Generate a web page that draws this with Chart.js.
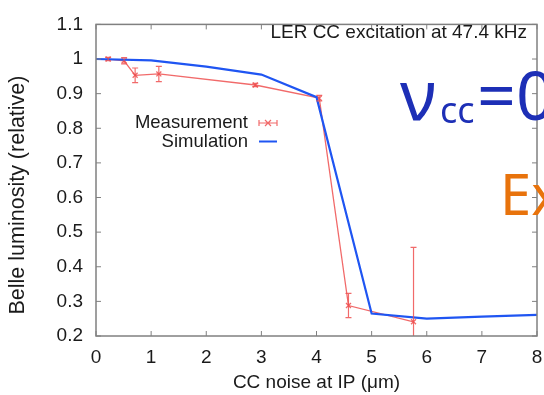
<!DOCTYPE html>
<html lang="en">
<head>
  <meta charset="UTF-8" />
  <title>Belle luminosity vs CC noise</title>
  <script src="https://cdn.jsdelivr.net/npm/chart.js"></script>
  <style>
    html, body {
      margin: 0;
      padding: 0;
      width: 544px;
      height: 395px;
      overflow: hidden;
      background: #fff;
    }
    /* a bit wider than the window so the "8" label and big text get cut like the slide */
    .chart-container {
      position: relative;
      width: 560px;
      height: 395px;
    }
  </style>
</head>
<body>
  <div class="chart-container">
    <canvas id="chart1"></canvas>
  </div>

  <script>
    // Measurement (red, with y error bars)
    const measX   = [0.22, 0.51, 0.71, 1.14, 2.89, 4.05, 4.58, 5.76];
    const measY   = [1.000, 0.995, 0.953, 0.957, 0.925, 0.887, 0.288, 0.241];
    const measErr = [0.005, 0.009, 0.021, 0.022, 0.005, 0.008, 0.035, 0.215];

    // Simulation (blue)
    const simX = [0, 1, 2, 3, 4, 5, 6, 7, 8];
    const simY = [1.000, 0.996, 0.978, 0.955, 0.890, 0.265, 0.250, 0.256, 0.261];

    // Axis ticks
    const xTicks = [0, 1, 2, 3, 4, 5, 6, 7, 8];
    const xTickLabels = ['0', '1', '2', '3', '4', '5', '6', '7', '8'];
    const yTicks = [0.2, 0.3, 0.4, 0.5, 0.6, 0.7, 0.8, 0.9, 1.0, 1.1];
    const yTickLabels = ['0.2', '0.3', '0.4', '0.5', '0.6', '0.7', '0.8', '0.9', '1', '1.1'];

    const RED = 'rgba(238, 80, 80, 0.85)';
    const BLUE = '#1f55f2';
    const FONT = '"Liberation Sans", Arial, Helvetica, sans-serif';

    // frame, inward ticks, error bars, legend and the slide texts
    const overlayPlugin = {
      id: 'overlay',
      afterDatasetsDraw(chart) {
        const { ctx, chartArea: a, scales: { x, y } } = chart;
        ctx.save();
        ctx.beginPath();
        ctx.rect(a.left, a.top, a.right - a.left, a.bottom - a.top);
        ctx.clip();
        ctx.strokeStyle = RED;
        ctx.lineWidth = 1.2;
        measX.forEach((mx, i) => {
          const px = x.getPixelForValue(mx);
          const top = y.getPixelForValue(measY[i] + measErr[i]);
          const bot = y.getPixelForValue(measY[i] - measErr[i]);
          ctx.beginPath();
          ctx.moveTo(px, top); ctx.lineTo(px, bot);
          ctx.moveTo(px - 3, top); ctx.lineTo(px + 3, top);
          ctx.moveTo(px - 3, bot); ctx.lineTo(px + 3, bot);
          ctx.stroke();
        });
        ctx.restore();
      },
      afterDraw(chart) {
        const { ctx, chartArea: a, scales: { x, y } } = chart;
        ctx.save();

        // frame
        ctx.strokeStyle = '#808080';
        ctx.lineWidth = 1.5;
        ctx.strokeRect(a.left, a.top, a.right - a.left, a.bottom - a.top);

        // inward ticks on all four sides
        ctx.lineWidth = 1;
        ctx.beginPath();
        xTicks.forEach(v => {
          const px = x.getPixelForValue(v);
          ctx.moveTo(px, a.bottom); ctx.lineTo(px, a.bottom - 5);
          ctx.moveTo(px, a.top); ctx.lineTo(px, a.top + 5);
        });
        yTicks.forEach(v => {
          const py = y.getPixelForValue(v);
          ctx.moveTo(a.left, py); ctx.lineTo(a.left + 5, py);
          ctx.moveTo(a.right, py); ctx.lineTo(a.right - 5, py);
        });
        ctx.stroke();

        // axis titles
        ctx.fillStyle = '#1a1a1a';
        ctx.textAlign = 'center';
        ctx.textBaseline = 'middle';
        ctx.font = '19px ' + FONT;
        ctx.fillText('CC noise at IP (\u03bcm)', (a.left + a.right) / 2, 383);
        ctx.save();
        ctx.translate(18, 195);
        ctx.rotate(-Math.PI / 2);
        ctx.font = '21.5px ' + FONT;
        ctx.fillText('Belle luminosity (relative)', 0, 0);
        ctx.restore();

        // title inside plot
        ctx.textAlign = 'right';
        ctx.font = '19px ' + FONT;
        ctx.fillText('LER CC excitation at 47.4 kHz', 527, 33);

        // legend
        ctx.font = '18.5px ' + FONT;
        ctx.fillText('Measurement', 248, 123);
        ctx.fillText('Simulation', 248, 141.5);
        ctx.strokeStyle = RED;
        ctx.lineWidth = 1.2;
        ctx.beginPath();
        ctx.moveTo(259, 123); ctx.lineTo(277, 123);
        ctx.moveTo(259, 120); ctx.lineTo(259, 126);
        ctx.moveTo(277, 120); ctx.lineTo(277, 126);
        ctx.moveTo(265, 120); ctx.lineTo(271, 126);
        ctx.moveTo(265, 126); ctx.lineTo(271, 120);
        ctx.stroke();
        ctx.strokeStyle = BLUE;
        ctx.lineWidth = 2;
        ctx.beginPath();
        ctx.moveTo(259, 141.5); ctx.lineTo(277, 141.5);
        ctx.stroke();

        // slide overlay text
        ctx.textAlign = 'left';
        ctx.textBaseline = 'alphabetic';
        ctx.fillStyle = '#1d2fb6';
        ctx.font = '70px "Noto Sans", sans-serif';
        ctx.fillText('\u03bd', 400, 120);
        ctx.font = '36px "Noto Sans", sans-serif';
        ctx.fillText('cc', 440, 123);
        ctx.font = '68px "Noto Sans", sans-serif';
        ctx.fillText('=0', 477, 120);
        ctx.fillStyle = '#e8730c';
        ctx.font = '56px "Noto Sans", sans-serif';
        ctx.fillText('Ex', 500, 215);

        ctx.restore();
      }
    };

    const ctx = document.getElementById('chart1').getContext('2d');
    new Chart(ctx, {
      type: 'line',
      data: {
        datasets: [
          {
            label: 'Simulation',
            data: simX.map((v, i) => ({ x: v, y: simY[i] })),
            borderColor: BLUE,
            borderWidth: 2.2,
            pointRadius: 0,
            tension: 0,
            fill: false
          },
          {
            label: 'Measurement',
            data: measX.map((v, i) => ({ x: v, y: measY[i] })),
            borderColor: RED,
            borderWidth: 1.3,
            pointStyle: 'crossRot',
            pointRadius: 3.5,
            pointBorderColor: RED,
            pointBorderWidth: 1.3,
            tension: 0,
            fill: false
          }
        ]
      },
      options: {
        responsive: true,
        maintainAspectRatio: false,
        animation: false,
        layout: { padding: { left: 0, right: 23, top: 14, bottom: 0 } },
        plugins: {
          legend: { display: false },
          tooltip: { enabled: false }
        },
        scales: {
          x: {
            type: 'linear',
            min: 0,
            max: 8,
            afterBuildTicks: s => { s.ticks = xTicks.map(v => ({ value: v })); },
            afterFit: s => { s.height = 59; },
            grid: { display: false, drawTicks: false },
            border: { display: false },
            ticks: {
              padding: 10,
              color: '#1a1a1a',
              font: { family: FONT, size: 19 },
              maxRotation: 0,
              callback: (v) => xTickLabels[xTicks.indexOf(v)]
            }
          },
          y: {
            min: 0.2,
            max: 1.1,
            afterBuildTicks: s => { s.ticks = yTicks.map(v => ({ value: v })); },
            afterFit: s => { s.width = 96; },
            grid: { display: false, drawTicks: false },
            border: { display: false },
            ticks: {
              padding: 13,
              color: '#1a1a1a',
              font: { family: FONT, size: 19 },
              callback: (v) => yTickLabels[yTicks.findIndex(t => Math.abs(t - v) < 1e-6)]
            }
          }
        }
      },
      plugins: [overlayPlugin]
    });
  </script>
</body>
</html>
